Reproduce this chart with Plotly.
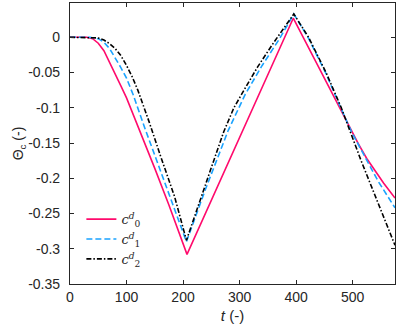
import plotly.graph_objects as go

# series values
t_c0 = [0, 30, 40, 50, 60, 70, 80, 90, 100, 125, 150, 175, 207, 395, 496, 510, 525, 540, 555, 575]
v_c0 = [0, 0, -0.002, -0.0085, -0.019, -0.035, -0.052, -0.069, -0.086, -0.135, -0.186, -0.238, -0.308,
        0.027, -0.131, -0.151, -0.172, -0.190, -0.207, -0.228]

t_c1 = [0, 35, 50, 60, 70, 80, 90, 100, 112, 132, 155, 180, 206,
        240, 280, 310, 340, 370, 396, 421, 452, 479, 498, 512, 530, 545, 560, 575]
v_c1 = [0, 0, -0.002, -0.007, -0.016, -0.029, -0.043, -0.058, -0.082, -0.128, -0.178, -0.232, -0.290,
        -0.215, -0.132, -0.081, -0.040, -0.003, 0.033, 0, -0.05, -0.1, -0.134, -0.155, -0.183, -0.204,
        -0.223, -0.242]

t_c2 = [0, 40, 50, 60, 70, 80, 90, 100, 110, 120, 130, 140, 160, 185, 206,
        230, 250, 272, 290, 310, 332, 360, 396, 422, 453, 480, 496, 515, 535, 555, 575]
v_c2 = [0, 0, -0.001, -0.004, -0.009, -0.016, -0.026, -0.040, -0.056, -0.075, -0.097, -0.12, -0.168,
        -0.226, -0.288, -0.230, -0.185, -0.134, -0.100, -0.072, -0.042, -0.008, 0.033, 0, -0.05, -0.1,
        -0.135, -0.175, -0.215, -0.254, -0.295]

x_ticks = [0, 100, 200, 300, 400, 500]
y_ticks = [0, -0.05, -0.1, -0.15, -0.2, -0.25, -0.3, -0.35]
y_ticktext = ["0", "-0.05", "-0.1", "-0.15", "-0.2", "-0.25", "-0.3", "-0.35"]

axis_color = "#262626"
sans = "Liberation Sans, Arial, sans-serif"
tick_font = dict(family=sans, size=14, color=axis_color)

fig = go.Figure()
fig.add_trace(go.Scatter(
    x=t_c0, y=v_c0, mode="lines",
    line=dict(color="#ff0a6c", width=1.6),
    name="<i>c</i><sup><i>d</i></sup><sub>0</sub>"
))
fig.add_trace(go.Scatter(
    x=t_c1, y=v_c1, mode="lines",
    line=dict(color="#1aa3ff", width=1.6, dash="6px,3px"),
    name="<i>c</i><sup><i>d</i></sup><sub>1</sub>"
))
fig.add_trace(go.Scatter(
    x=t_c2, y=v_c2, mode="lines",
    line=dict(color="#000000", width=1.6, dash="5px,2px,1.5px,2px"),
    name="<i>c</i><sup><i>d</i></sup><sub>2</sub>"
))

fig.update_layout(
    width=399, height=331,
    margin=dict(l=70, r=4, t=3, b=47),
    paper_bgcolor="white",
    plot_bgcolor="white",
    showlegend=True,
    legend=dict(
        x=0.035, y=0.035, xanchor="left", yanchor="bottom",
        bgcolor="rgba(0,0,0,0)",
        font=dict(family="DejaVu Serif, serif", size=13, color=axis_color),
        tracegroupgap=0, itemwidth=30,
    ),
    xaxis=dict(
        range=[0, 575],
        tickvals=x_ticks,
        ticks="inside", ticklen=4, tickcolor=axis_color,
        showline=True, linecolor=axis_color, linewidth=1.2, mirror="ticks",
        showgrid=False, zeroline=False, automargin=False,
        tickfont=tick_font,
        title=dict(text="<i>t</i> (-)", font=dict(family=sans, size=15, color=axis_color), standoff=6),
    ),
    yaxis=dict(
        range=[-0.35, 0.0486],
        tickvals=y_ticks, ticktext=y_ticktext,
        ticks="inside", ticklen=4, tickcolor=axis_color,
        showline=True, linecolor=axis_color, linewidth=1.2, mirror="ticks",
        showgrid=False, zeroline=False, automargin=False,
        tickfont=tick_font,
        ticklabelstandoff=6,
        title=dict(text="Θ<sub>c</sub> (-)", font=dict(family=sans, size=14, color=axis_color), standoff=0),
    ),
)

fig.write_html("out.html", config={"displayModeBar": False},
               post_script="document.body.style.margin='0px';")
